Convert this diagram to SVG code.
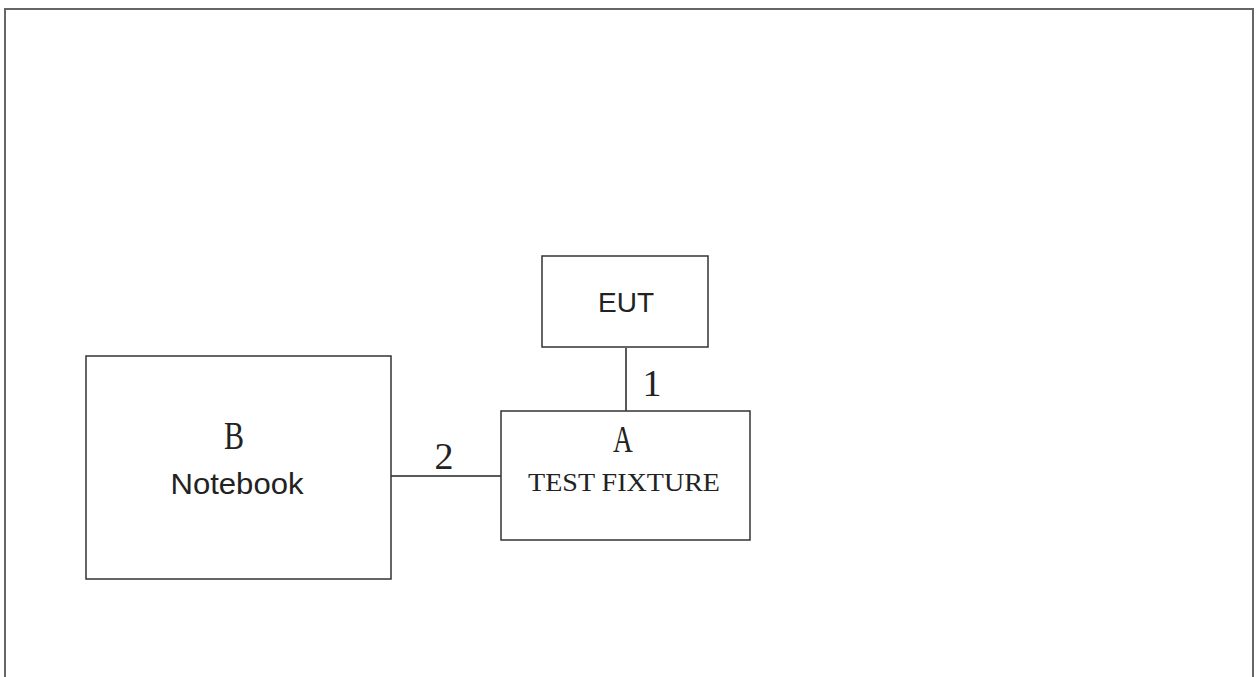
<svg xmlns="http://www.w3.org/2000/svg" width="1256" height="677" viewBox="0 0 1256 677">
<style>
.box{fill:#fff;stroke:#333;stroke-width:1.5}
.wire{fill:none;stroke:#222;stroke-width:1.5}
.frame{fill:none;stroke:#666;stroke-width:2}
.sans{font-family:"Liberation Sans",Arial,sans-serif;fill:#222;text-anchor:middle}
.serif{font-family:"Liberation Serif","Times New Roman",serif;fill:#222;text-anchor:middle}
</style>
<rect width="1256" height="677" fill="#fff"/>
<path class="frame" d="M5,677 V9 H1253 V677"/>
<g id="connectors">
<line class="wire" x1="626" y1="348" x2="626" y2="411"/>
<line class="wire" x1="391" y1="476" x2="501" y2="476"/>
<text class="serif" x="652" y="396" font-size="38">1</text>
<text class="serif" x="444" y="469" font-size="38">2</text>
</g>
<g id="eut">
<rect class="box" x="542" y="256" width="166" height="91"/>
<text class="sans" x="626" y="312" font-size="28">EUT</text>
</g>
<g id="fixture">
<rect class="box" x="501" y="411" width="249" height="129"/>
<text class="serif" transform="translate(623,452) scale(0.72,1)" x="0" y="0" font-size="38">A</text>
<text class="serif" x="624" y="491" font-size="25" textLength="192" lengthAdjust="spacingAndGlyphs">TEST FIXTURE</text>
</g>
<g id="notebook">
<rect class="box" x="86" y="356" width="305" height="223"/>
<text class="serif" transform="translate(234,449) scale(0.75,1)" x="0" y="0" font-size="40">B</text>
<text class="sans" x="237" y="494" font-size="29" textLength="133" lengthAdjust="spacingAndGlyphs">Notebook</text>
</g>
</svg>
